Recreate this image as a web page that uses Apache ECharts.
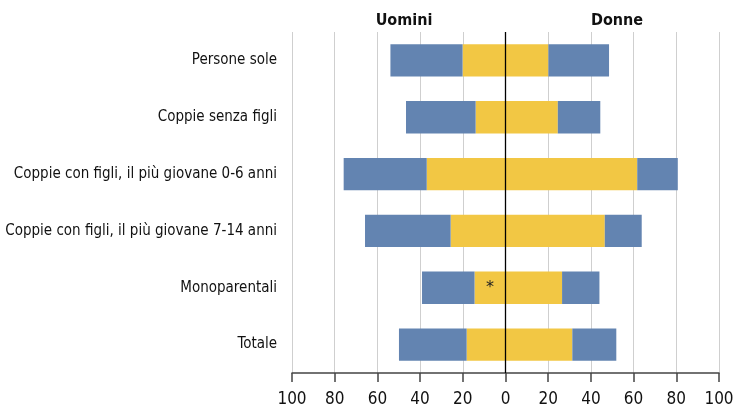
<!DOCTYPE html>
<html>
<head>
<meta charset="utf-8">
<script src="https://cdn.jsdelivr.net/npm/echarts@6/dist/echarts.min.js"></script>
<style>
html, body { margin: 0; padding: 0; background: #fff; }
#chart { width: 733px; height: 408px; }
</style>
</head>
<body>
<div id="chart"></div>
<script>
// categorie (dall'alto in basso)
const categories = [
  'Persone sole',
  'Coppie senza figli',
  'Coppie con figli, il più giovane 0-6 anni',
  'Coppie con figli, il più giovane 7-14 anni',
  'Monoparentali',
  'Totale'
];
// segmento interno (giallo) e esterno (blu), valori in %
const uominiInner = [20.1, 14.0, 36.9, 25.7, 14.5, 18.2];
const uominiOuter = [33.8, 32.6, 38.9, 40.1, 24.6, 31.7];
const donneInner = [20.1, 24.5, 61.7, 46.5, 26.5, 31.3];
const donneOuter = [28.4, 19.9, 19.0, 17.3, 17.5, 20.6];
// note sui segmenti degli uomini
const uominiNote = ['', '', '', '', '*', ''];
const xTicks = [-100, -80, -60, -40, -20, 0, 20, 40, 60, 80, 100];

const font = '"Liberation Sans Narrow", "DejaVu Sans Condensed", "Roboto", sans-serif';
const blue = '#6384b1';
const yellow = '#f2c744';

const chart = echarts.init(document.getElementById('chart'));

const option = {
  animation: false,
  textStyle: { fontFamily: font },
  title: [
    { text: 'Uomini', left: 399, top: 8, textAlign: 'center',
      textStyle: { fontFamily: font, fontSize: 16, fontWeight: 'bold', color: '#111' } },
    { text: 'Donne', left: 612, top: 8, textAlign: 'center',
      textStyle: { fontFamily: font, fontSize: 16, fontWeight: 'bold', color: '#111' } }
  ],
  grid: { left: 292, right: 14, top: 32, bottom: 35, outerBoundsMode: 'none', containLabel: false },
  xAxis: {
    type: 'value',
    min: xTicks[0],
    max: xTicks[xTicks.length - 1],
    interval: 20,
    axisLine: { show: true, lineStyle: { color: '#444', width: 1.5 } },
    axisTick: { show: true, length: 9, lineStyle: { color: '#444', width: 1.5 } },
    axisLabel: {
      color: '#111', fontSize: 17, fontFamily: font, margin: 18,
      formatter: v => Math.abs(v)
    },
    splitLine: { show: true, lineStyle: { color: '#cfcfcf', width: 1 } }
  },
  yAxis: {
    type: 'category',
    data: categories,
    inverse: true,
    axisLine: { show: false, onZero: false },
    axisTick: { show: false },
    axisLabel: { color: '#111', fontSize: 15, fontFamily: font, margin: 15, padding: [4, 0, 0, 0] }
  },
  series: [
    {
      name: 'Uomini interno', type: 'bar', stack: 'tot', barWidth: '57%',
      itemStyle: { color: yellow },
      data: uominiInner.map((v, i) => ({
        value: -v,
        label: {
          show: uominiNote[i] !== '', position: 'inside', formatter: uominiNote[i],
          color: '#222', fontSize: 16, fontFamily: 'DejaVu Sans'
        }
      })),
      markLine: {
        silent: true, symbol: 'none', label: { show: false },
        lineStyle: { color: '#000', width: 1.3, type: 'solid' },
        data: [{ xAxis: 0 }],
        z: 10
      },
      z: 3
    },
    {
      name: 'Donne interno', type: 'bar', stack: 'tot', barWidth: '57%',
      itemStyle: { color: yellow },
      data: donneInner,
      z: 3
    },
    {
      name: 'Uomini esterno', type: 'bar', stack: 'tot', barWidth: '57%',
      itemStyle: { color: blue },
      data: uominiOuter.map(v => -v),
      z: 3
    },
    {
      name: 'Donne esterno', type: 'bar', stack: 'tot', barWidth: '57%',
      itemStyle: { color: blue },
      data: donneOuter,
      z: 3
    }
  ]
};

chart.setOption(option);
</script>
</body>
</html>
